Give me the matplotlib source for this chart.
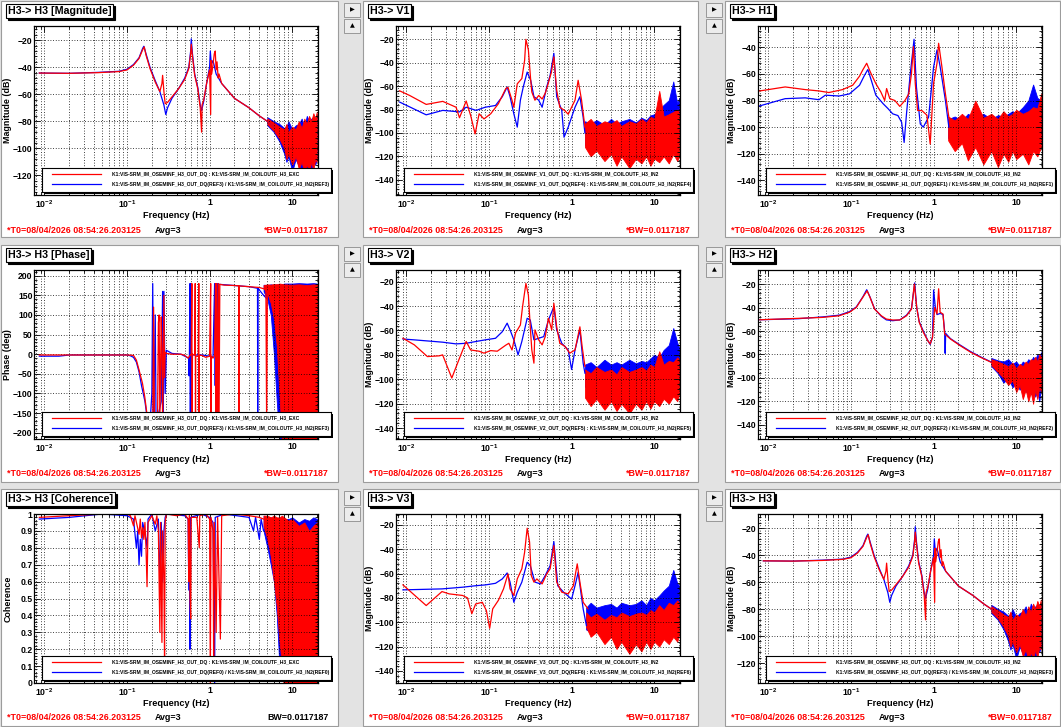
import matplotlib
matplotlib.use('Agg')
import matplotlib.pyplot as plt
import numpy as np
from matplotlib.patches import Rectangle
from matplotlib.ticker import LogLocator, FuncFormatter, MultipleLocator, NullFormatter, FixedLocator
from matplotlib import transforms

plt.rcParams['font.family'] = ['Liberation Sans', 'DejaVu Sans']
plt.rcParams['font.weight'] = 'bold'
plt.rcParams['mathtext.fontset'] = 'custom'
plt.rcParams['mathtext.rm'] = 'Liberation Sans:bold'
plt.rcParams['mathtext.bf'] = 'Liberation Sans:bold'
plt.rcParams['mathtext.default'] = 'rm'

# ---------------- data ----------------
# H3 -> H3 magnitude (same measurement shown top-left and bottom-right)
h3_f_red = [0.0087, 0.02, 0.045, 0.08, 0.1, 0.12, 0.14, 0.155, 0.162, 0.17, 0.19, 0.22, 0.25, 0.265, 0.27, 0.28,
            0.29, 0.31, 0.35, 0.42, 0.5, 0.56, 0.59, 0.6, 0.62, 0.66, 0.72, 0.77, 0.8, 0.81, 0.85, 0.92, 1.0, 1.03,
            1.04, 1.06, 1.1, 1.14, 1.17, 1.2, 1.23, 1.27, 1.3, 1.4, 1.7, 2.0, 3.0, 4.0, 5.0, 6.0]
h3_red = [-44.3, -44.5, -44, -43.2, -42, -38.5, -33.5, -27, -25, -31, -41, -51, -58, -52, -46, -58,
          -67, -66, -62, -56, -49, -41, -30, -23, -32, -46, -56, -70, -88, -68, -64, -52, -42, -75,
          -35, -45, -38, -30, -28, -42, -36, -48, -45, -52, -58, -63, -70, -76, -80, -84]
h3_f_blue = [0.0087, 0.02, 0.045, 0.08, 0.1, 0.12, 0.14, 0.155, 0.16, 0.17, 0.19, 0.22, 0.25, 0.28, 0.295, 0.31,
             0.35, 0.42, 0.5, 0.56, 0.59, 0.6, 0.62, 0.66, 0.72, 0.77, 0.8, 0.85, 0.92, 1.0, 1.02, 1.05, 1.1, 1.2,
             1.4, 1.7, 2.0, 3.0, 4.0, 5.0, 6.0]
h3_blue = [-44.3, -44.5, -43.8, -43, -41.5, -38, -33, -26, -24.5, -30, -40, -50, -58, -68, -75, -70,
           -63, -56, -48, -40, -28, -19, -30, -45, -55, -68, -72, -65, -52, -40, -28, -38, -35, -45,
           -52, -58, -63, -70, -76, -80, -84]
h3_band_f = [5, 6, 7, 8, 8.5, 9, 10, 11, 12, 13, 14, 15, 16, 17, 18, 19, 19.8]
h3_red_lo = [-82, -87, -93, -100, -108, -104, -112, -106, -115, -110, -118, -112, -117, -110, -116, -108, -110]
h3_red_hi = [-78, -81, -84, -86, -82, -88, -84, -86, -80, -85, -78, -82, -76, -80, -74, -78, -73]
h3_blue_lo = [-83, -88, -95, -104, -110, -106, -117, -108, -113, -115, -114, -118, -112, -116, -110, -112, -108]
h3_blue_hi = [-77, -80, -82, -85, -84, -80, -86, -83, -82, -78, -84, -76, -80, -78, -77, -80, -76]

# H3 -> H3 phase
ph_f_red = [0.0087, 0.05, 0.1, 0.12, 0.13, 0.14, 0.154, 0.164, 0.174, 0.185, 0.2, 0.205, 0.21, 0.215, 0.225,
            0.235, 0.24, 0.245, 0.25, 0.26, 0.265, 0.27, 0.28, 0.285, 0.29, 0.3, 0.35, 0.4, 0.45, 0.5, 0.55,
            0.58, 0.6, 0.61, 0.615, 0.62, 0.66, 0.67, 0.675, 0.68, 0.73, 0.74, 0.745, 0.75, 0.8, 0.9, 1.0,
            1.03, 1.035, 1.05, 1.1, 1.15, 1.18, 1.2, 1.22, 1.25, 1.28, 1.3, 1.33, 1.5, 2.0, 2.25, 2.26,
            2.27, 3.0, 4.0, 4.8, 4.9, 5.0]
ph_red = [-2, -2, -2, -3, -15, -40, -74, -108, -150, -180, -170, -175, 120, -160, -180,
          -150, 80, 100, -170, 95, 10, -180, 150, -60, 5, 2, 0, 0, 0, -3, -10,
          -3, 0, 180, -180, 0, -2, 180, -180, -5, -5, 180, -180, -3, -3, -8, -5,
          180, -180, -5, -10, -3, 180, -180, 180, -180, 180, -180, 178, 176, 175, 174, -180,
          174, 172, 170, 165, -180, 160]
ph_f_blue = [0.0087, 0.015, 0.02, 0.1, 0.11, 0.12, 0.13, 0.14, 0.15, 0.165, 0.175, 0.19, 0.2, 0.205, 0.21,
             0.22, 0.225, 0.26, 0.27, 0.275, 0.28, 0.29, 0.3, 0.35, 0.45, 0.5, 0.56, 0.565, 0.57, 0.58,
             0.585, 0.59, 0.6, 0.62, 0.8, 1.0, 1.1, 1.15, 1.17, 1.19, 1.2, 1.25, 1.3, 2.0, 3.0, 3.8,
             3.82, 3.85, 4.5, 5.0]
ph_blue = [-5, -5, -2, -2, -4, -8, -20, -45, -80, -120, -160, -180, -100, 180, -180,
           100, -180, -120, 160, -180, 160, -100, 10, 2, 0, -5, -10, -55, 0, 180,
           -180, 180, -180, -2, -2, -5, -8, 180, -80, 180, -180, 180, 178, 175, 172, 168,
           -180, 168, 150, 140]
ph_band_f = [4.5, 5.0, 5.5, 6.0, 6.5, 7.0, 7.5, 8.0, 10, 12, 15, 18, 20]
ph_red_lo = [168, 155, 130, 90, 20, -100, -220, -220, -220, -220, -220, -220, -220]
ph_red_hi = [176, 178, 177, 179, 178, 180, 179, 178, 177, 178, 176, 178, 177]
ph_blue_lo = [160, 140, 100, 0, -120, -220, -220, -220, -220, -220, -220, -220, -220]
ph_blue_hi = [177, 176, 178, 176, 178, 177, 178, 180, 180, 181, 180, 181, 180]

# H3 -> H3 coherence
coh_f_red = [0.0087, 0.02, 0.05, 0.1, 0.11, 0.12, 0.125, 0.14, 0.145, 0.15, 0.155, 0.16, 0.165, 0.17, 0.175,
             0.18, 0.2, 0.22, 0.23, 0.24, 0.25, 0.255, 0.265, 0.27, 0.28, 0.285, 0.29, 0.3, 0.4, 0.5, 0.55,
             0.56, 0.57, 0.58, 0.59, 0.6, 0.7, 0.75, 0.76, 0.9, 1.0, 1.02, 1.04, 1.1, 1.12, 1.14, 1.2,
             1.25, 1.35, 1.4, 2.0, 3.0, 4.0, 4.5]
coh_red = [0.98, 0.99, 1.0, 1.0, 0.99, 0.93, 0.99, 0.88, 0.97, 0.86, 0.92, 0.85, 0.95, 0.8, 0.57,
           0.95, 0.99, 0.94, 0.99, 0.9, 0.3, 0.95, 0.24, 0.9, 0.6, 0.15, 0.95, 1.0, 0.99, 1.0, 0.97,
           0.6, 0.99, 0.5, 0.38, 0.98, 0.98, 0.8, 0.99, 1.0, 0.97, 0.0, 0.98, 0.9, 0.1, 0.95, 0.3,
           0.98, 0.26, 0.99, 1.0, 0.99, 0.98, 0.97]
coh_f_blue = [0.0087, 0.02, 0.05, 0.1, 0.12, 0.13, 0.135, 0.14, 0.145, 0.15, 0.155, 0.17, 0.175, 0.18, 0.2,
              0.22, 0.24, 0.25, 0.26, 0.27, 0.28, 0.29, 0.3, 0.5, 0.55, 0.56, 0.57, 0.58, 0.59, 0.8,
              1.0, 1.1, 1.15, 1.17, 1.5, 3.0, 3.4, 3.6, 4.0, 4.2, 4.5]
coh_blue = [0.97, 0.98, 1.0, 0.99, 0.97, 0.8, 0.9, 0.7, 0.85, 0.75, 0.95, 0.85, 0.8, 0.97, 1.0,
            0.9, 0.97, 0.6, 0.95, 0.6, 0.9, 0.98, 1.0, 0.99, 0.97, 0.55, 0.95, 0.2, 0.98, 1.0,
            0.98, 0.95, 0.0, 0.98, 1.0, 0.98, 0.9, 0.98, 0.85, 0.97, 0.9]
coh_band_f = [4.5, 5.0, 5.5, 6.0, 6.5, 7.0, 7.5, 8.0, 9.0, 10, 12, 14, 16, 18, 20]
coh_red_lo = [0.93, 0.85, 0.75, 0.6, 0.45, 0.25, 0.1, -0.05, -0.05, -0.05, -0.05, -0.05, -0.05, -0.05, -0.05]
coh_red_hi = [0.99, 0.99, 0.98, 0.99, 0.98, 0.98, 0.99, 0.98, 0.96, 0.97, 0.93, 0.95, 0.9, 0.93, 0.95]
coh_blue_lo = [0.9, 0.8, 0.7, 0.6, 0.4, 0.1, 0.15, 0.2, 0.3, 0.1, 0.05, 0.0, 0.0, 0.0, 0.0]
coh_blue_hi = [0.99, 0.98, 0.98, 0.97, 0.95, 0.96, 0.98, 0.97, 0.97, 0.98, 0.95, 0.97, 0.96, 0.98, 0.97]

# H3 -> V1
v1_f_red = [0.0083, 0.011, 0.0174, 0.0276, 0.04, 0.044, 0.053, 0.06, 0.068, 0.076, 0.087, 0.105, 0.13, 0.16,
            0.17, 0.19, 0.2, 0.22, 0.25, 0.27, 0.28, 0.3, 0.32, 0.33, 0.36, 0.4, 0.44, 0.48, 0.52, 0.57,
            0.61, 0.66, 0.72, 0.83, 0.91, 1.0, 1.1, 1.2, 1.32, 1.45]
v1_red = [-64, -68, -75.6, -73, -78, -87, -72.7, -85, -100.8, -83.6, -88, -83.6, -75, -62,
          -61, -72, -78, -58, -53.5, -38, -20, -29, -55, -65, -72, -68, -71, -66, -58, -48,
          -35, -63.5, -78, -81, -84, -78, -72, -55, -72, -95]
v1_f_blue = [0.0083, 0.0174, 0.0276, 0.044, 0.053, 0.07, 0.09, 0.12, 0.145, 0.166, 0.18, 0.2, 0.22, 0.24,
             0.26, 0.29, 0.32, 0.35, 0.4, 0.44, 0.5, 0.55, 0.61, 0.66, 0.76, 0.81, 0.91, 1.0, 1.1, 1.26,
             1.38, 1.45]
v1_blue = [-73.6, -84.5, -80.7, -82, -78, -80.7, -78, -76.5, -69, -60.7, -69, -83.6, -95, -72,
           -60.7, -48, -55, -69, -72, -78, -60.7, -50.7, -32, -69, -80.7, -103.6, -95, -86.5, -78, -69,
           -86.5, -100]
v1_band_f = [1.45, 1.7, 2.0, 2.5, 3.0, 3.5, 4.0, 5.0, 6.0, 7.0, 8.0, 9.0, 10, 11.5, 13, 15, 17, 19, 20]
v1_red_lo = [-112, -120, -115, -124, -118, -128, -120, -130, -122, -126, -120, -128, -122, -125, -120, -126, -118, -124, -120]
v1_red_hi = [-92, -88, -94, -90, -92, -89, -94, -90, -92, -88, -91, -86, -88, -64, -86, -84, -82, -80, -82]
v1_blue_lo = [-110, -116, -112, -120, -114, -118, -112, -120, -115, -118, -112, -118, -114, -116, -110, -114, -108, -112, -105]
v1_blue_hi = [-90, -92, -89, -93, -88, -92, -90, -88, -91, -87, -89, -85, -84, -80, -76, -72, -56, -75, -70]

# H3 -> H1
h1_f_red = [0.0075, 0.016, 0.028, 0.041, 0.054, 0.079, 0.105, 0.127, 0.139, 0.155, 0.171, 0.2, 0.23, 0.256,
            0.27, 0.295, 0.34, 0.39, 0.45, 0.5, 0.54, 0.57, 0.6, 0.64, 0.72, 0.83, 0.91, 1.0, 1.1, 1.15,
            1.26, 1.39, 1.53]
h1_red = [-73, -69.8, -71.8, -72.8, -74, -71.8, -68.5, -61.7, -57, -52, -58.4, -67.3, -73.6, -80,
          -71, -78.6, -80, -84.4, -80, -75, -59.7, -39.5, -67.3, -87.5, -87.5, -91, -112.7, -67, -52, -37,
          -54.6, -75, -92.5]
h1_f_blue = [0.0075, 0.016, 0.028, 0.041, 0.049, 0.072, 0.096, 0.127, 0.146, 0.16, 0.176, 0.2, 0.245, 0.28,
             0.32, 0.37, 0.41, 0.44, 0.47, 0.52, 0.58, 0.62, 0.69, 0.75, 0.87, 1.0, 1.1, 1.2, 1.39, 1.53]
h1_blue = [-84.4, -78.6, -78, -79.4, -76, -76.6, -75, -68.5, -61, -56.7, -64.7, -76, -82.4, -86,
           -90, -91.3, -96.3, -111.5, -90, -61, -34, -70, -97.6, -100, -92.5, -54.6, -42, -54.6, -80, -100]
h1_band_f = [1.5, 1.8, 2.2, 2.6, 3.2, 4.0, 5.0, 6.0, 7.0, 8.0, 9.0, 10, 12, 14, 16, 18, 20]
h1_red_lo = [-110, -118, -112, -125, -115, -128, -118, -130, -120, -126, -118, -124, -120, -128, -118, -122, -115]
h1_red_hi = [-92, -95, -90, -94, -80, -93, -90, -94, -88, -92, -90, -87, -90, -88, -85, -86, -75]
h1_blue_lo = [-108, -114, -110, -118, -112, -116, -112, -118, -114, -116, -112, -118, -114, -116, -112, -114, -110]
h1_blue_hi = [-94, -92, -95, -90, -93, -90, -94, -91, -92, -90, -88, -90, -85, -80, -68, -78, -80]

# H3 -> V2
v2_f_red = [0.0091, 0.0125, 0.018, 0.025, 0.0275, 0.0355, 0.044, 0.053, 0.06, 0.076, 0.087, 0.105, 0.126,
            0.16, 0.174, 0.19, 0.21, 0.24, 0.255, 0.28, 0.3, 0.316, 0.33, 0.35, 0.36, 0.4, 0.44, 0.48,
            0.525, 0.575, 0.61, 0.66, 0.72, 0.83, 0.95, 1.1, 1.26, 1.34, 1.45]
v2_red = [-66.4, -71.8, -81.4, -80.8, -80, -99, -82.7, -69, -76, -77, -78.6, -76.5, -77,
          -72, -70.5, -76, -62, -55.5, -40.5, -21.4, -31, -57, -76, -86.8, -59.5, -67.7, -71.8, -65,
          -50, -59.5, -37.7, -57, -70.5, -73, -78.6, -76, -57, -73, -89.5]
v2_f_blue = [0.0091, 0.0125, 0.0275, 0.04, 0.053, 0.07, 0.09, 0.12, 0.145, 0.166, 0.18, 0.2, 0.225, 0.25,
             0.29, 0.316, 0.35, 0.4, 0.46, 0.525, 0.61, 0.66, 0.76, 0.91, 1.0, 1.1, 1.26, 1.38, 1.45]
v2_blue = [-67, -67.7, -69.6, -71, -70.5, -69, -67.7, -66.4, -61, -54, -59.5, -67.7, -80, -69,
           -50, -51.4, -67.7, -66.4, -65, -51.4, -40.5, -59.5, -70.5, -76, -92, -76, -59.5, -86.8, -95]
v2_band_f = [1.45, 1.7, 2.0, 2.5, 3.0, 3.5, 4.0, 5.0, 6.0, 7.0, 8.0, 9.0, 10, 11.5, 13, 15, 17, 19, 20]
v2_red_lo = [-115, -122, -116, -125, -118, -126, -120, -128, -120, -125, -118, -124, -118, -122, -116, -120, -114, -118, -112]
v2_red_hi = [-92, -95, -90, -94, -92, -96, -90, -94, -92, -90, -93, -88, -90, -77, -88, -85, -86, -82, -84]
v2_blue_lo = [-106, -110, -104, -112, -106, -110, -104, -112, -106, -110, -104, -110, -106, -108, -104, -108, -102, -106, -100]
v2_blue_hi = [-88, -86, -90, -84, -88, -86, -88, -84, -87, -85, -86, -83, -80, -82, -76, -72, -58, -70, -74]

# H3 -> H2
h2_f_red = [0.0079, 0.023, 0.045, 0.072, 0.096, 0.116, 0.139, 0.157, 0.17, 0.193, 0.233, 0.268, 0.32, 0.39,
            0.47, 0.54, 0.585, 0.625, 0.67, 0.75, 0.85, 0.91, 0.97, 1.03, 1.1, 1.15, 1.2, 1.3, 1.36, 1.6,
            2.1, 2.8, 3.7, 5.0]
h2_red = [-50.4, -49.2, -48.4, -47, -44, -39.9, -31.3, -25.7, -31.3, -41.3, -47, -49.8, -50.6, -50.6,
          -47, -41.3, -20, -39.9, -52.6, -61, -68.2, -71, -65.4, -40, -45.5, -24, -44, -45.5, -62.5, -66.8,
          -72.5, -78, -82.4, -86.7]
h2_f_blue = [0.0079, 0.023, 0.045, 0.072, 0.096, 0.116, 0.139, 0.155, 0.17, 0.193, 0.233, 0.268, 0.32, 0.39,
             0.47, 0.54, 0.59, 0.625, 0.67, 0.75, 0.85, 0.91, 0.97, 1.0, 1.05, 1.1, 1.2, 1.3, 1.36, 1.38,
             1.4, 1.6, 2.1, 2.8, 3.7, 5.0]
h2_blue = [-50.4, -49.5, -48, -46.5, -43.5, -39.5, -31, -24.8, -31, -41, -47.5, -50.5, -51.2, -50.5,
           -46.5, -41, -19, -40, -52, -60, -68, -71.5, -65, -25, -40, -46, -45, -46, -60, -79,
           -62, -66.5, -72, -77.5, -82, -86.5]
h2_band_f = [5, 6, 7, 8, 9, 10, 11, 12, 13, 14, 15, 16, 17, 18, 19, 20]
h2_red_lo = [-89, -95, -100, -106, -102, -112, -106, -118, -110, -120, -112, -122, -110, -118, -108, -112]
h2_red_hi = [-84, -86, -88, -90, -87, -92, -88, -90, -86, -88, -84, -85, -82, -86, -80, -82]
h2_blue_lo = [-90, -96, -104, -100, -108, -104, -110, -106, -112, -108, -114, -110, -116, -110, -120, -108]
h2_blue_hi = [-83, -85, -86, -84, -88, -86, -90, -86, -88, -84, -86, -82, -84, -80, -82, -78]

# H3 -> V3
v3_f_red = [0.0091, 0.0174, 0.027, 0.033, 0.048, 0.055, 0.062, 0.069, 0.083, 0.093, 0.102, 0.111, 0.13,
            0.15, 0.17, 0.18, 0.2, 0.22, 0.25, 0.27, 0.29, 0.31, 0.325, 0.35, 0.38, 0.44, 0.5, 0.55,
            0.61, 0.66, 0.76, 0.91, 1.05, 1.17, 1.26, 1.38, 1.58]
v3_red = [-69.3, -86.3, -74.8, -76.7, -78, -80, -93, -85, -83.6, -90.4, -105, -89, -82,
          -72.6, -60.3, -72.6, -78, -64.4, -56, -42.5, -22.7, -34, -61.6, -67, -64.4, -68.5, -60.3, -56,
          -37, -67, -75.3, -76.7, -70, -52, -67, -83.6, -89]
v3_f_blue = [0.0091, 0.027, 0.048, 0.069, 0.091, 0.12, 0.145, 0.166, 0.18, 0.2, 0.22, 0.25, 0.29, 0.316,
             0.36, 0.42, 0.48, 0.55, 0.61, 0.68, 0.8, 1.0, 1.1, 1.2, 1.38, 1.51]
v3_blue = [-73.4, -72.6, -71.2, -70, -69.3, -68, -64.4, -59.5, -67, -83.6, -75.3, -67, -50.7, -53.4,
           -67, -68.5, -61.6, -53.4, -33.7, -70, -75.3, -81, -70, -59, -89, -102.7]
v3_band_f = [1.5, 1.7, 2.0, 2.5, 3.0, 3.5, 4.0, 5.0, 6.0, 7.0, 8.0, 9.0, 10, 11.5, 13, 15, 17, 19, 20]
v3_red_lo = [-104, -112, -108, -118, -112, -122, -116, -126, -118, -124, -116, -122, -116, -120, -114, -118, -112, -116, -110]
v3_red_hi = [-92, -96, -93, -98, -94, -96, -92, -95, -93, -92, -94, -90, -92, -86, -90, -84, -86, -82, -84]
v3_blue_lo = [-106, -108, -104, -110, -106, -112, -104, -108, -104, -108, -102, -106, -104, -106, -100, -104, -98, -100, -96]
v3_blue_hi = [-88, -84, -88, -86, -85, -88, -84, -86, -85, -82, -86, -80, -82, -78, -74, -70, -57, -68, -70]

titles = ['H3-> H3 [Magnitude]', 'H3-> V1', 'H3-> H1',
          'H3-> H3 [Phase]', 'H3-> V2', 'H3-> H2',
          'H3-> H3 [Coherence]', 'H3-> V3', 'H3-> H3']
ylabels = ['Magnitude (dB)', 'Magnitude (dB)', 'Magnitude (dB)',
           'Phase (deg)', 'Magnitude (dB)', 'Magnitude (dB)',
           'Coherence', 'Magnitude (dB)', 'Magnitude (dB)']
chan = 'K1:VIS-SRM_IM_OSEMINF_%s_OUT_DQ'
exc = ['EXC', 'IN2', 'IN2', 'EXC', 'IN2', 'IN2', 'EXC', 'IN2', 'IN2']
dof = ['H3', 'V1', 'H1', 'H3', 'V2', 'H2', 'H3', 'V3', 'H3']
refs = ['REF3', 'REF4', 'REF1', 'REF3', 'REF5', 'REF2', 'REF0', 'REF6', 'REF3']
seps = ['/', ':', '/', '/', ':', '/', '/', ':', '/']
t0_text = '*T0=08/04/2026 08:54:26.203125'
avg_text = 'Avg=3'
bw_text = ['*BW=0.0117187'] * 6 + ['BW=0.0117187', '*BW=0.0117187', '*BW=0.0117187']

# ---------------- layout helpers ----------------
W, H = 1061, 727
BG = '#e3e3e3'
fig = plt.figure(figsize=(W / 100, H / 100), dpi=100, facecolor=BG)


def fx(x):
    return x / W


def fy(y):
    return 1 - y / H


def add_rect(x, y, w, h, **kw):
    r = Rectangle((fx(x), fy(y + h)), w / W, h / H, transform=fig.transFigure, **kw)
    fig.add_artist(r)
    return r


def xfmt(v, pos):
    if abs(v - 1) < 1e-9:
        return '1'
    if abs(v - 10) < 1e-9:
        return '10'
    return r'$10^{%d}$' % int(round(np.log10(v)))


col_x = [1, 363, 725]
col_w = [337, 335, 335]
row_y = [1, 245, 489]
row_h = [236, 237, 237]

panels = [
    (h3_f_red, h3_red, h3_f_blue, h3_blue, h3_band_f, h3_red_lo, h3_red_hi, h3_blue_lo, h3_blue_hi, (-134.5, -9.5), 20),
    (v1_f_red, v1_red, v1_f_blue, v1_blue, v1_band_f, v1_red_lo, v1_red_hi, v1_blue_lo, v1_blue_hi, (-153, -8.6), 20),
    (h1_f_red, h1_red, h1_f_blue, h1_blue, h1_band_f, h1_red_lo, h1_red_hi, h1_blue_lo, h1_blue_hi, (-151, -24), 20),
    (ph_f_red, ph_red, ph_f_blue, ph_blue, ph_band_f, ph_red_lo, ph_red_hi, ph_blue_lo, ph_blue_hi, (-216, 214.5), 50),
    (v2_f_red, v2_red, v2_f_blue, v2_blue, v2_band_f, v2_red_lo, v2_red_hi, v2_blue_lo, v2_blue_hi, (-149, -10.4), 20),
    (h2_f_red, h2_red, h2_f_blue, h2_blue, h2_band_f, h2_red_lo, h2_red_hi, h2_blue_lo, h2_blue_hi, (-152, -8), 20),
    (coh_f_red, coh_red, coh_f_blue, coh_blue, coh_band_f, coh_red_lo, coh_red_hi, coh_blue_lo, coh_blue_hi, (0, 1), 0.1),
    (v3_f_red, v3_red, v3_f_blue, v3_blue, v3_band_f, v3_red_lo, v3_red_hi, v3_blue_lo, v3_blue_hi, (-150, -11), 20),
    (h3_f_red, h3_red, h3_f_blue, h3_blue, h3_band_f, h3_red_lo, h3_red_hi, h3_blue_lo, h3_blue_hi, (-134.8, -9.6), 20),
]

FS = 6.4
grid_kw = dict(color='black', linestyle=(0, (1, 2.2)), linewidth=0.6)

for i, p in enumerate(panels):
    row, col = divmod(i, 3)
    px, py, pw, ph = col_x[col], row_y[row], col_w[col], row_h[row]
    fr, vr, fb, vb, bf, rlo, rhi, blo, bhi, ylim, ystep = p

    # panel canvas
    add_rect(px, py, pw, ph, facecolor='white', edgecolor='#9c9c9c', linewidth=0.8, zorder=-2)

    # side buttons for the right-hand columns
    if col > 0:
        bx = px - 19
        for k, glyph in enumerate(['\u25b6', '\u25b2']):
            by = py + 2 + k * 16
            add_rect(bx, by, 16, 14, facecolor='#ececec', edgecolor='#8c8c8c', linewidth=0.6, zorder=-1)
            fig.text(fx(bx + 8), fy(by + 7), glyph, fontsize=4.5, ha='center', va='center',
                     family='DejaVu Sans', color='black')

    # axes
    ax_x, ax_y, ax_w, ax_h = px + 33, py + 25, 284, 169
    ax = fig.add_axes([fx(ax_x), fy(ax_y + ax_h), ax_w / W, ax_h / H])
    ax.set_xscale('log')
    ax.plot(fb, vb, color='#0000ff', lw=0.9)
    ax.fill_between(bf, blo, bhi, color='#0000ff', lw=0.6)
    ax.plot(fr, vr, color='#ff0000', lw=0.9)
    ax.fill_between(bf, rlo, rhi, color='#ff0000', lw=0.6)
    ax.set_xlim(0.0075, 20.5)
    ax.set_ylim(*ylim)

    ax.xaxis.set_major_locator(FixedLocator([0.01, 0.1, 1, 10]))
    ax.xaxis.set_major_formatter(FuncFormatter(xfmt))
    ax.xaxis.set_minor_locator(LogLocator(base=10, subs=np.arange(2, 10), numticks=20))
    ax.xaxis.set_minor_formatter(NullFormatter())
    ax.yaxis.set_major_locator(MultipleLocator(ystep))
    ax.yaxis.set_minor_locator(MultipleLocator(ystep / 5))
    ax.yaxis.set_major_formatter(FuncFormatter(lambda v, pos: ('%g' % round(v, 3)).replace('-', '\u2212')))
    ax.tick_params(which='both', direction='in', top=True, right=True, labelsize=6.2, width=0.6)
    ax.tick_params(axis='x', pad=2.5)
    ax.tick_params(axis='y', pad=1.0)
    ax.tick_params(which='major', length=4)
    ax.tick_params(which='minor', length=2)
    ax.grid(True, which='major', axis='y', **grid_kw)
    ax.grid(True, which='both', axis='x', **grid_kw)
    for s in ax.spines.values():
        s.set_linewidth(0.9)

    # legend box with shadow
    lx, ly, lw_, lh = ax_x + 8, ax_y + ax_h - 27, 289, 24
    add_rect(lx + 2, ly + 2, lw_, lh, facecolor='black', edgecolor='none', zorder=4)
    lax = fig.add_axes([fx(lx), fy(ly + lh), lw_ / W, lh / H], zorder=5)
    lax.set_xlim(0, 1)
    lax.set_ylim(0, 1)
    lax.set_xticks([])
    lax.set_yticks([])
    for s in lax.spines.values():
        s.set_linewidth(0.8)
    red_lab = '%s : K1:VIS-SRM_IM_COILOUTF_H3_%s' % (chan % dof[i], exc[i])
    blue_lab = '%s(%s) %s K1:VIS-SRM_IM_COILOUTF_H3_IN2(%s)' % (chan % dof[i], refs[i], seps[i], refs[i])
    lax.plot([0.035, 0.205], [0.74, 0.74], color='#ff0000', lw=0.9)
    lax.plot([0.035, 0.205], [0.32, 0.32], color='#0000ff', lw=0.9)
    lax.text(0.243, 0.74, red_lab, fontsize=3.6, va='center', clip_on=True)
    lax.text(0.243, 0.32, blue_lab, fontsize=3.6, va='center', clip_on=True)

    # title box with shadow
    shadow = transforms.offset_copy(fig.transFigure, fig=fig, x=2, y=-2, units='dots')
    tx, ty = px + 7, py + 10
    fig.text(fx(tx), fy(ty), titles[i], transform=shadow, fontsize=7.7, va='center', ha='left', color='black',
             bbox=dict(boxstyle='square,pad=0.15', facecolor='black', edgecolor='black', linewidth=0.8))
    fig.text(fx(tx), fy(ty), titles[i], fontsize=7.7, va='center', ha='left', color='black',
             bbox=dict(boxstyle='square,pad=0.15', facecolor='white', edgecolor='black', linewidth=0.8))

    # axis labels
    fig.text(fx(px + 7), fy(ax_y + ax_h / 2), ylabels[i], rotation=90, fontsize=6.4, ha='center', va='center')
    fig.text(fx(ax_x + ax_w / 2), fy(py + 214.5), 'Frequency (Hz)', fontsize=6.6, ha='center', va='center')

    # footer
    fig.text(fx(px + 6), fy(py + 229), t0_text, color='#ff0000', fontsize=FS, ha='left', va='center')
    fig.text(fx(px + 154), fy(py + 229), avg_text, color='black', fontsize=FS, ha='left', va='center')
    fig.text(fx(px + 328), fy(py + 229), bw_text[i], color='#ff0000' if bw_text[i].startswith('*') else 'black',
             fontsize=FS, ha='right', va='center')

fig.savefig('out.png', dpi=100, facecolor=fig.get_facecolor())
